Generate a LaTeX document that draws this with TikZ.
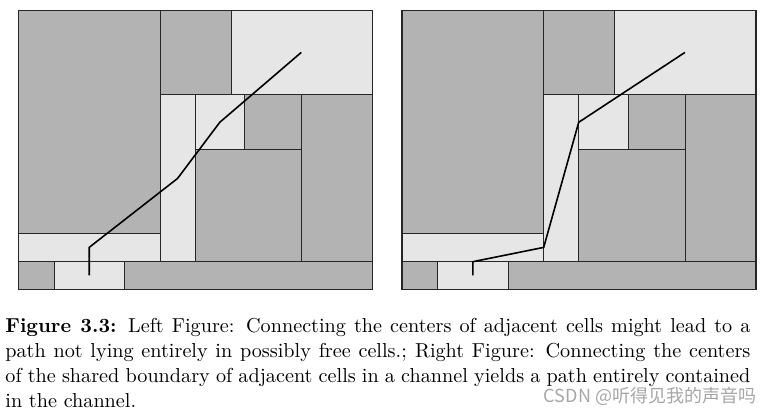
\documentclass[tikz,border=0pt]{standalone}
\usepackage{fontspec}
\newfontfamily\cjkfont{Noto Sans CJK SC}
\definecolor{occ}{HTML}{B3B3B3}
\definecolor{freec}{HTML}{E6E6E6}
\definecolor{wmark}{HTML}{A6A6A6}
\tikzset{
  occcell/.style={fill=occ, draw=black!85, line width=0.5pt},
  freecell/.style={fill=freec, draw=black!85, line width=0.5pt},
  frameline/.style={draw=black!85, line width=0.8pt},
  pathline/.style={draw=black, line width=0.8pt, line join=round},
}
\newcommand{\cellpanel}{%
  \path[occcell]  (18.3,10.7)  rectangle (160,233.3);
  \path[occcell]  (160,10.7)   rectangle (231,94.3);
  \path[freecell] (231,10.7)   rectangle (372.3,94.3);
  \path[freecell] (160,94.3)   rectangle (195,261.7);
  \path[freecell] (195,94.3)   rectangle (244.7,150);
  \path[occcell]  (244.7,94.3) rectangle (301.7,150);
  \path[occcell]  (301.7,94.3) rectangle (372.3,261.7);
  \path[occcell]  (195,150)    rectangle (301.7,261.7);
  \path[freecell] (18.3,233.3) rectangle (160,261.7);
  \path[occcell]  (18.3,261.7) rectangle (54,289.7);
  \path[freecell] (54,261.7)   rectangle (124.3,289.7);
  \path[occcell]  (124.3,261.7) rectangle (372.3,289.7);
  \path[frameline] (18.3,10.7) rectangle (372.3,289.7);
}
\begin{document}
\begin{tikzpicture}[x=0.5pt,y=-0.5pt]
\useasboundingbox (0,0) rectangle (772,415);
% left panel
\begin{scope}
  \cellpanel
  \coordinate (l1) at (89.2,275.5);
  \coordinate (l2) at (89.2,247.4);
  \coordinate (l3) at (177.5,178.5);
  \coordinate (l4) at (219.8,122.3);
  \coordinate (l5) at (301.3,52.4);
  \draw[pathline] (l1) -- (l2) -- (l3) -- (l4) -- (l5);
\end{scope}
% right panel
\begin{scope}[shift={(383.7,0)}]
  \cellpanel
  \coordinate (r1) at (89.2,275.5);
  \coordinate (r2) at (89.2,261.7);
  \coordinate (r3) at (160,247.4);
  \coordinate (r4) at (195,122.3);
  \coordinate (r5) at (301.3,52.4);
  \draw[pathline] (r1) -- (r2) -- (r3) -- (r4) -- (r5);
\end{scope}
% caption
\node[anchor=north west, inner sep=0pt, text width=372.5pt, align=justify,
      font=\fontsize{10.1}{12.5}\selectfont] (cap) at (5,318)
  {\textbf{Figure 3.3:} Left Figure: Connecting the centers of adjacent cells might lead to a\linebreak
   path not lying entirely in possibly free cells.; Right Figure: Connecting the centers\linebreak
   of the shared boundary of adjacent cells in a channel yields a path entirely contained\linebreak
   in the channel.};
\node[anchor=base east, inner sep=0pt, text=wmark,
      font=\cjkfont\fontsize{9}{10}\selectfont] (wm) at (756.5,403)
  {CSDN @听得见我的声音吗};
\end{tikzpicture}
\end{document}
